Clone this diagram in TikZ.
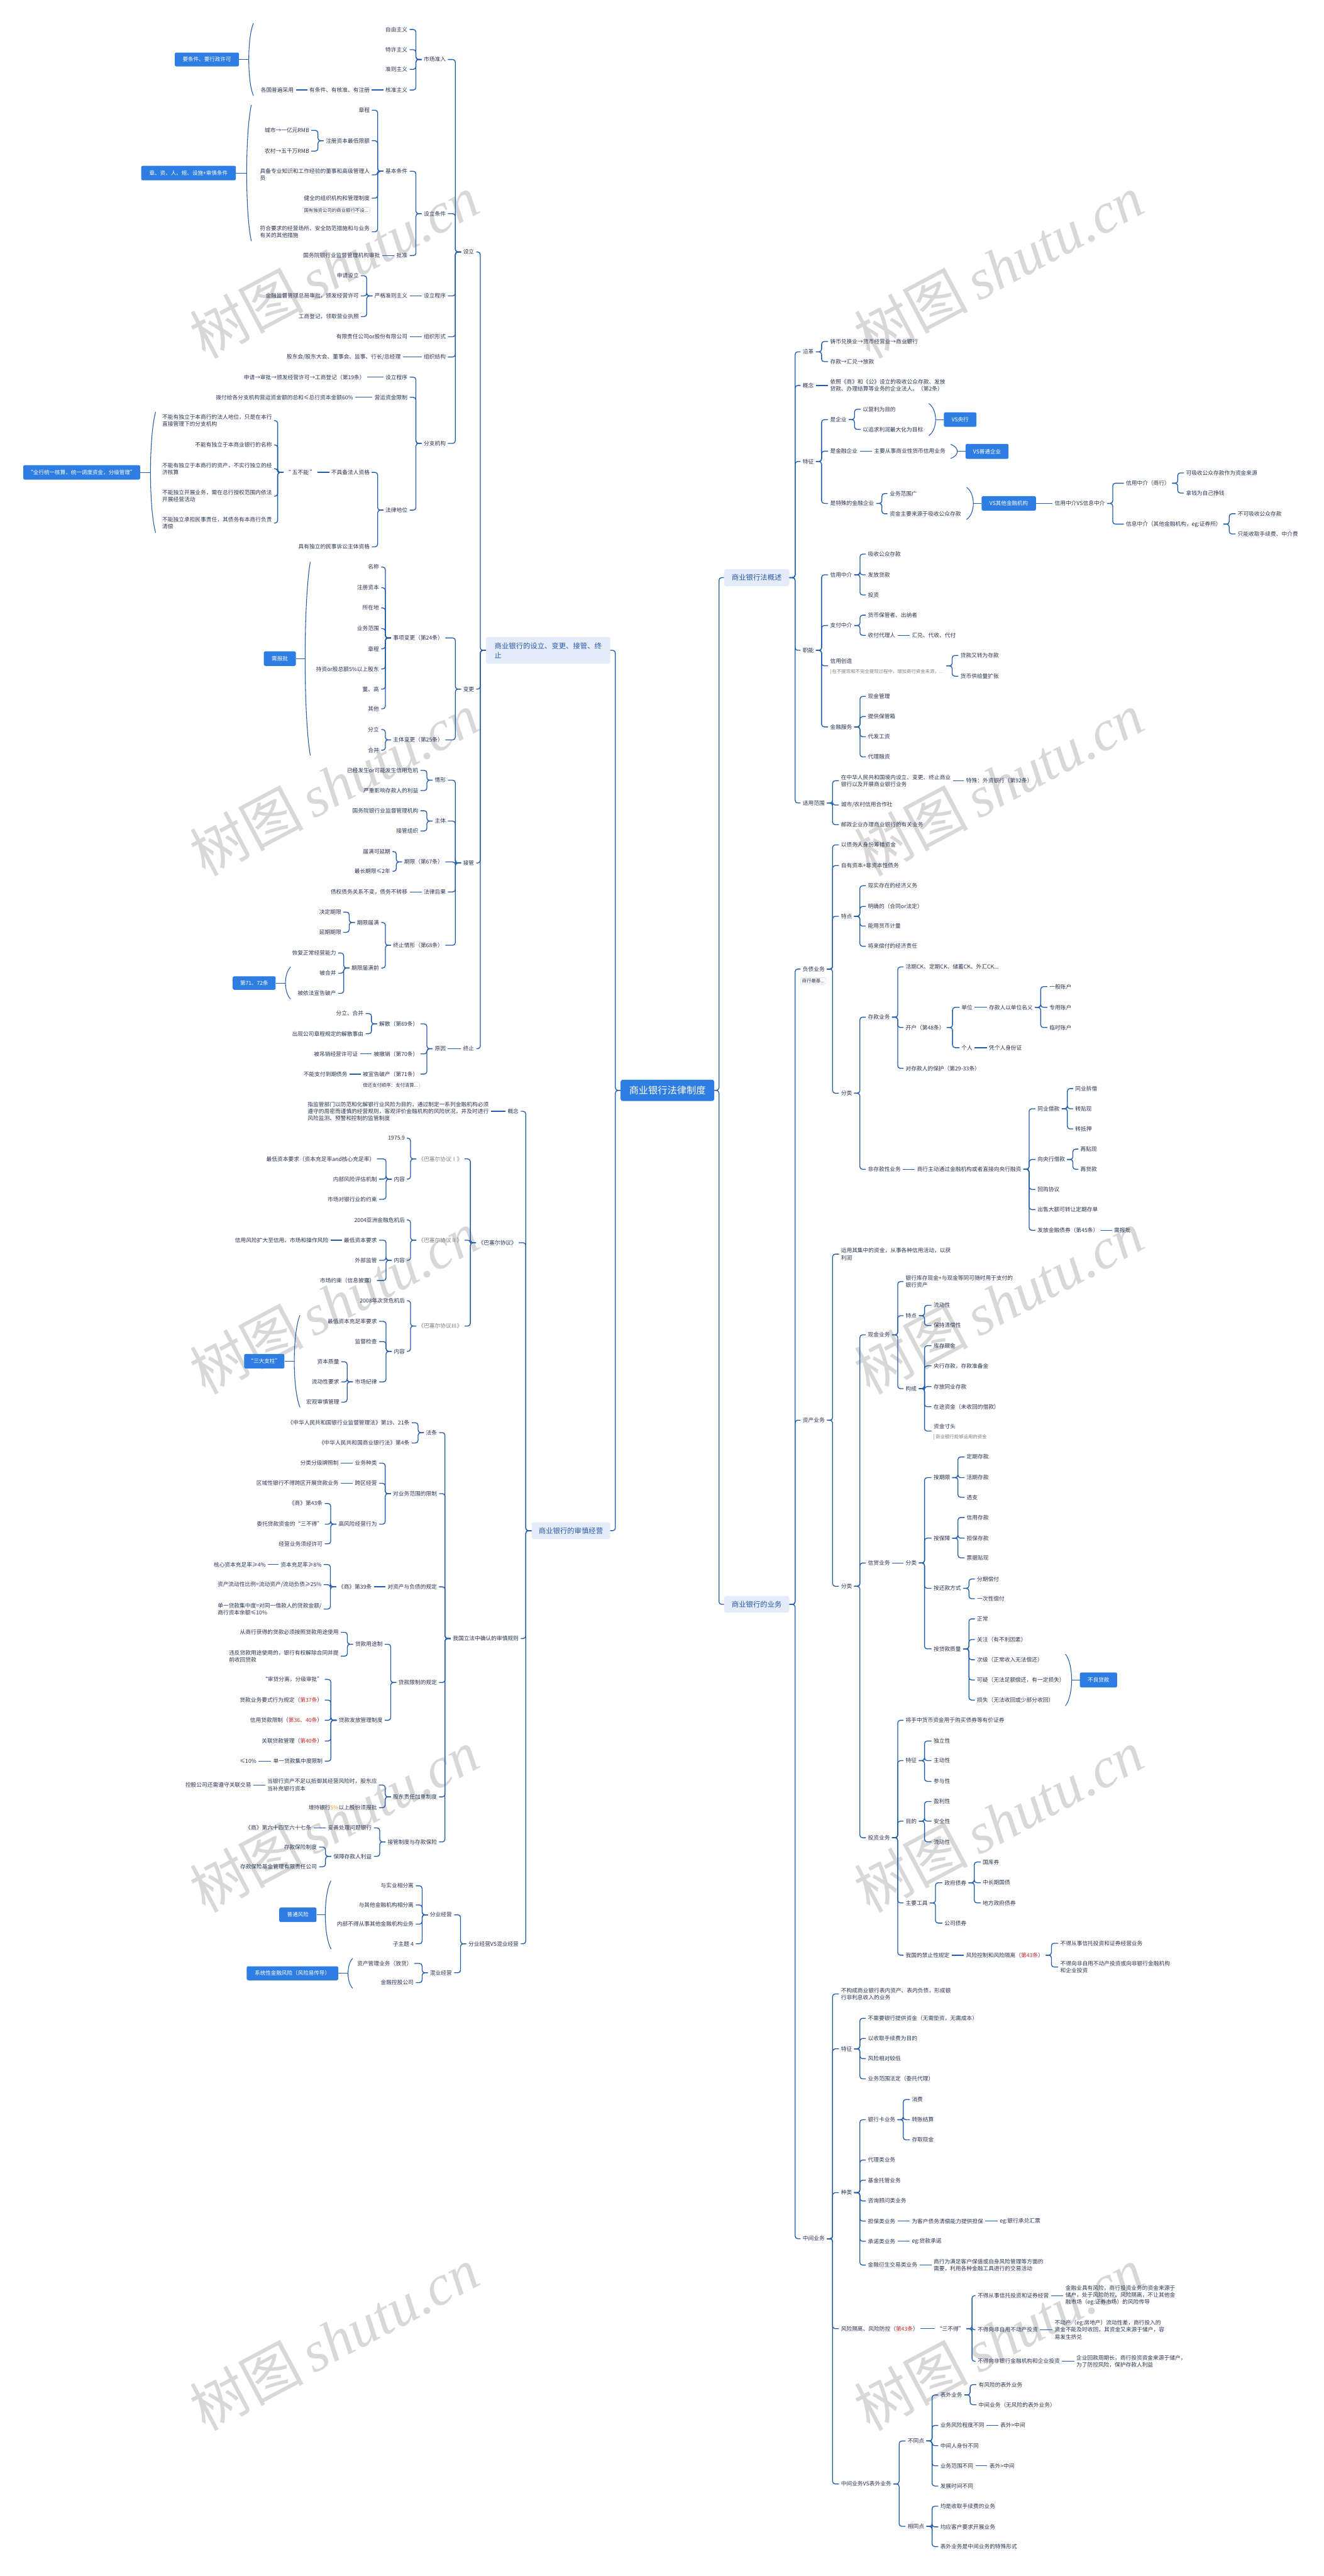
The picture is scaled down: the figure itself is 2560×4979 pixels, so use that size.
\documentclass[tikz,border=0pt]{standalone}
\usepackage{fontspec}
\setmainfont{Noto Sans CJK SC}
\newfontfamily\wmlat{Liberation Serif}
\usetikzlibrary{calc}
\definecolor{lc}{RGB}{33,92,170}
\definecolor{tc}{RGB}{42,52,82}
\definecolor{bb}{RGB}{46,125,226}
\definecolor{bf}{RGB}{228,236,250}
\definecolor{bt}{RGB}{40,88,170}
\definecolor{gt}{RGB}{125,125,125}
\definecolor{wm}{RGB}{216,216,216}
\definecolor{rd}{RGB}{200,40,40}
\definecolor{og}{RGB}{235,160,40}
\tikzset{
 txt/.style={inner xsep=4pt, inner ysep=1pt, text=tc, font=\fontsize{10.6}{13.6}\selectfont, align=left},
 gtxt/.style={txt, text=gt},
 notetxt/.style={inner xsep=4pt, inner ysep=1pt, text=gt, font=\fontsize{9}{11}\selectfont, align=left},
 conn/.style={draw=lc, line width=1.6pt, rounded corners=5pt},
 brace/.style={draw=lc, line width=1.3pt},
 bluebox/.style={fill=bb, text=white, rounded corners=3pt, font=\fontsize{10.4}{13}\selectfont, inner sep=0pt},
 branch/.style={fill=bf, text=bt, rounded corners=4pt, font=\fontsize{13.8}{18}\selectfont, inner sep=0pt, align=left},
 central/.style={fill=bb, text=white, rounded corners=4pt, font=\fontsize{18.5}{22}\selectfont, inner sep=0pt},
 notebox/.style={draw=gray!45, fill=white, rounded corners=3pt, text=tc, font=\fontsize{9}{11}\selectfont, inner xsep=3pt, inner ysep=2pt},
 wmark/.style={rotate=28, text=wm, font=\fontsize{110}{110}\selectfont},
}
\newcommand\mmL[4]{\node[txt,anchor=east] (#1) at ({#2+4},#3) {#4};}
\newcommand\mmR[4]{\node[txt,anchor=west] (#1) at ({#2-4},#3) {#4};}
\newcommand\mmLK[2]{\foreach \kid in {#2}{\draw[conn] (#1.west) -- ++(-11,0) |- (\kid.east);}}
\newcommand\mmRK[2]{\foreach \kid in {#2}{\draw[conn] (#1.east) -- ++(11,0) |- (\kid.west);}}
\newcommand\mmLS[2]{\draw[conn] (#1.west) -- (#2.east);}
\newcommand\mmRS[2]{\draw[conn] (#1.east) -- (#2.west);}
\newcommand\brL[5]{\draw[brace] (#1,#2) .. controls ({#4+(#4-#1)/3},{#2+(#3-#2)*0.2}) and ({#4+(#4-#1)/3},{#3-(#3-#2)*0.2}) .. (#1,#3); \draw[brace] (#4,{#2/2+#3/2}) -- (#5.east);}
\newcommand\brR[5]{\draw[brace] (#1,#2) .. controls ({#4+(#4-#1)/3},{#2+(#3-#2)*0.2}) and ({#4+(#4-#1)/3},{#3-(#3-#2)*0.2}) .. (#1,#3); \draw[brace] (#4,{#2/2+#3/2}) -- (#5.west);}
\begin{document}
\begin{tikzpicture}[x=1pt,y=-1pt]
\fill[white] (0,0) rectangle (2560,4979);
\useasboundingbox (0,0) rectangle (2560,4979);
% watermarks
\foreach \wx in {646,1931}{\foreach \wy in {515,1515,2517,3519,4520}{\node[wmark] at (\wx,\wy) {树图\,{\wmlat\itshape shutu.cn}};}}
% central and branches
\node[central,minimum width=181,minimum height=41] (C) at (1290.5,2107.5) {商业银行法律制度};
\node[branch,anchor=east,minimum width=240,minimum height=52] (B1) at (1180,1257) {商业银行的设立、变更、接管、终\\止};
\node[branch,anchor=east,minimum width=152,minimum height=33] (B2) at (1180,2958.5) {商业银行的审慎经营};
\node[branch,anchor=west,minimum width=126,minimum height=33] (B3) at (1400,1116.5) {商业银行法概述};
\node[branch,anchor=west,minimum width=126,minimum height=32] (B4) at (1400,3101) {商业银行的业务};
\draw[conn] (C.west) -- ++(-10,0) |- (B1.east);
\draw[conn] (C.west) -- ++(-10,0) |- (B2.east);
\draw[conn] (C.east) -- ++(9,0) |- (B3.west);
\draw[conn] (C.east) -- ++(9,0) |- (B4.west);
% ===== B1 =====
\mmL{sl}{917}{487}{设立}
\mmL{bg}{917}{1332}{变更}
\mmL{jg}{917}{1668}{接管}
\mmL{zz}{917}{2027}{终止}
\mmLK{B1}{sl,bg,jg,zz}
\mmL{a1}{862}{115}{市场准入}
\mmL{a2}{862}{413}{设立条件}
\mmL{a3}{862}{572}{设立程序}
\mmL{a4}{862}{651}{组织形式}
\mmL{a5}{862}{690}{组织结构}
\mmL{a6}{862}{857}{分支机构}
\mmLK{sl}{a1,a2,a3,a4,a5,a6}
\mmL{a11}{788}{57}{自由主义}
\mmL{a12}{788}{96}{特许主义}
\mmL{a13}{788}{134}{准则主义}
\mmL{a14}{788}{174}{核准主义}
\mmLK{a1}{a11,a12,a13,a14}
\mmL{a141}{715}{174}{有条件、有核准、有注册}
\mmLS{a14}{a141}
\mmL{a1411}{568}{174}{各国普遍采用}
\mmLS{a141}{a1411}
\node[bluebox,minimum width=124,minimum height=27] (X1) at (400,115) {要条件、要行政许可};
\brL{490}{45}{185}{481}{X1}
\mmL{a21}{788}{331}{基本条件}
\mmL{a22}{788}{494}{批准}
\mmLK{a2}{a21,a22}
\mmL{a211}{715}{213}{章程}
\mmL{a212}{715}{272}{注册资本最低限额}
\mmL{a213}{715}{338}{具备专业知识和工作经验的董事和高级管理人\\员}
\mmL{a214}{715}{383}{健全的组织机构和管理制度}
\mmL{a215}{715}{448}{符合要求的经营场所、安全防范措施和与业务\\有关的其他措施}
\mmLK{a21}{a211,a212,a213,a214,a215}
\node[notebox] (n1) at (650,406.5) {国有独资公司的商业银行不设...};
\mmL{a2121}{598}{252}{城市→一亿元RMB}
\mmL{a2122}{598}{292}{农村→五千万RMB}
\mmLK{a212}{a2121,a2122}
\node[bluebox,minimum width=183,minimum height=28] (X2) at (364.5,334.5) {章、资、人、规、设施+审慎条件};
\brL{486}{203}{466}{477}{X2}
\mmL{a221}{735}{494}{国务院银行业监督管理机构审批}
\mmLS{a22}{a221}
\mmL{a31}{788}{572}{严格准则主义}
\mmLS{a3}{a31}
\mmL{a311}{694}{533}{申请设立}
\mmL{a312}{694}{572}{金融监督管理总局审批，颁发经营许可}
\mmL{a313}{694}{612}{工商登记，领取营业执照}
\mmLK{a31}{a311,a312,a313}
\mmL{a41}{788}{651}{有限责任公司or股份有限公司}
\mmLS{a4}{a41}
\mmL{a51}{775}{690}{股东会/股东大会、董事会、监事、行长/总经理}
\mmLS{a5}{a51}
\mmL{a61}{788}{729}{设立程序}
\mmL{a62}{788}{768}{营运资金限制}
\mmL{a63}{788}{986}{法律地位}
\mmLK{a6}{a61,a62,a63}
\mmL{a611}{706}{729}{申请→审批→颁发经营许可→工商登记（第19条）}
\mmLS{a61}{a611}
\mmL{a621}{683}{768}{拨付给各分支机构营运资金额的总和≤总行资本金额60\%}
\mmLS{a62}{a621}
\mmL{a631}{715}{913}{不具备法人资格}
\mmL{a632}{715}{1057}{具有独立的民事诉讼主体资格}
\mmLK{a63}{a631,a632}
\mmL{a6311}{610}{913}{“ 五不能 ”}
\mmLS{a631}{a6311}
\mmL{f1}{526}{813}{不能有独立于本商行的法人地位，只是在本行\\直接管理下的分支机构}
\mmL{f2}{526}{860}{不能有独立于本商业银行的名称}
\mmL{f3}{526}{906}{不能有独立于本商行的资产，不实行独立的经\\济核算}
\mmL{f4}{526}{959}{不能独立开展业务，需在总行授权范围内依法\\开展经营活动}
\mmL{f5}{526}{1011}{不能独立承担民事责任，其债务有本商行负责\\清偿}
\mmLK{a6311}{f1,f2,f3,f4,f5}
\node[bluebox,minimum width=226,minimum height=28] (X3) at (158,913) {“全行统一核算，统一调度资金，分级管理”};
\brL{301}{796}{1030}{291}{X3}
% 变更
\mmL{b1}{857}{1233}{事项变更（第24条）}
\mmL{b2}{857}{1430}{主体变更（第25条）}
\mmLK{bg}{b1,b2}
\mmL{b11}{733}{1096}{名称}
\mmL{b12}{733}{1136}{注册资本}
\mmL{b13}{733}{1175}{所在地}
\mmL{b14}{733}{1215}{业务范围}
\mmL{b15}{733}{1254}{章程}
\mmL{b16}{733}{1293}{持资or股总额5\%以上股东}
\mmL{b17}{733}{1332}{董、高}
\mmL{b18}{733}{1370}{其他}
\mmLK{b1}{b11,b12,b13,b14,b15,b16,b17,b18}
\mmL{b21}{733}{1410}{分立}
\mmL{b22}{733}{1450}{合并}
\mmLK{b2}{b21,b22}
\node[bluebox,minimum width=62,minimum height=28] (X4) at (541,1273) {需报批};
\brL{600}{1086}{1460}{590}{X4}
% 接管
\mmL{c1}{862}{1508}{情形}
\mmL{c2}{862}{1587}{主体}
\mmL{c3}{857}{1666}{期限（第67条）}
\mmL{c4}{862}{1724}{法律后果}
\mmL{c5}{857}{1827}{终止情形（第68条）}
\mmLK{jg}{c1,c2,c3,c4,c5}
\mmL{c11}{809}{1489}{已经发生or可能发生信用危机}
\mmL{c12}{809}{1528}{严重影响存款人的利益}
\mmLK{c1}{c11,c12}
\mmL{c21}{809}{1567}{国务院银行业监督管理机构}
\mmL{c22}{809}{1606}{接管组织}
\mmLK{c2}{c21,c22}
\mmL{c31}{755}{1646}{届满可延期}
\mmL{c32}{755}{1684}{最长期限≤2年}
\mmLK{c3}{c31,c32}
\mmL{c41}{788}{1724}{债权债务关系不变，债务不转移}
\mmLS{c4}{c41}
\mmL{c51}{733}{1783}{期限届满}
\mmL{c52}{733}{1871}{期限届满前}
\mmLK{c5}{c51,c52}
\mmL{c511}{660}{1763}{决定期限}
\mmL{c512}{660}{1802}{延期期限}
\mmLK{c51}{c511,c512}
\mmL{c521}{650}{1842}{恢复正常经营能力}
\mmL{c522}{650}{1881}{被合并}
\mmL{c523}{650}{1920}{被依法宣告破产}
\mmLK{c52}{c521,c522,c523}
\node[bluebox,minimum width=83,minimum height=26] (X5) at (491.5,1900) {第71、72条};
\brL{562}{1869}{1931}{552}{X5}
% 终止
\mmL{d1}{862}{2027}{原因}
\mmLS{zz}{d1}
\mmL{d11}{809}{1979}{解散（第69条）}
\mmL{d12}{809}{2037}{被撤销（第70条）}
\mmL{d13}{809}{2076}{被宣告破产（第71条）}
\mmLK{d1}{d11,d12,d13}
\mmL{d111}{703}{1959}{分立、合并}
\mmL{d112}{703}{1998}{出现公司章程规定的解散事由}
\mmLK{d11}{d111,d112}
\mmL{d121}{692}{2037}{被吊销经营许可证}
\mmLS{d12}{d121}
\mmL{d131}{672}{2076}{不能支付到期债务}
\mmLS{d13}{d131}
\node[notebox] (n2) at (755,2098) {偿还支付顺序：支付清算...};
% ===== B2 =====
\mmL{e1}{1003}{2148}{概念}
\mmL{e2}{999}{2402}{《巴塞尔协议》}
\mmL{e3}{1003}{3167}{我国立法中确认的审慎规则}
\mmL{e4}{1003}{3757}{分业经营VS混业经营}
\mmLK{B2}{e1,e2,e3,e4}
\mmL{e11}{945}{2148}{指监管部门以防范和化解银行业风险为目的，通过制定一系列金融机构必须\\遵守的周密而谨慎的经营规则，客观评价金融机构的风险状况，并及时进行\\风险监测、预警和控制的监管制度}
\mmLS{e1}{e11}
\node[gtxt,anchor=east] (e21) at (898,2240) {《巴塞尔协议Ⅰ》};
\node[gtxt,anchor=east] (e22) at (898,2397) {《巴塞尔协议Ⅱ》};
\node[gtxt,anchor=east] (e23) at (898,2563) {《巴塞尔协议Ⅲ》};
\mmLK{e2}{e21,e22,e23}
\mmL{e211}{783}{2200}{1975.9}
\mmL{e212}{783}{2279}{内容}
\mmLK{e21}{e211,e212}
\mmL{e2121}{725}{2240}{最低资本要求（资本充足率and核心充足率）}
\mmL{e2122}{729}{2279}{内部风险评估机制}
\mmL{e2123}{729}{2318}{市场对银行业的约束}
\mmLK{e212}{e2121,e2122,e2123}
\mmL{e221}{783}{2358}{2004亚洲金融危机后}
\mmL{e222}{783}{2436}{内容}
\mmLK{e22}{e221,e222}
\mmL{e2221}{729}{2397}{最低资本要求}
\mmL{e2222}{729}{2436}{外部监管}
\mmL{e2223}{725}{2475}{市场约束（信息披露）}
\mmLK{e222}{e2221,e2222,e2223}
\mmL{e22211}{635}{2397}{信用风险扩大至信用、市场和操作风险}
\mmLS{e2221}{e22211}
\mmL{e231}{783}{2514}{2008年次贷危机后}
\mmL{e232}{783}{2612}{内容}
\mmLK{e23}{e231,e232}
\mmL{e2321}{729}{2554}{最低资本充足率要求}
\mmL{e2322}{729}{2593}{监督检查}
\mmL{e2323}{729}{2671}{市场纪律}
\mmLK{e232}{e2321,e2322,e2323}
\mmL{e23231}{656}{2632}{资本质量}
\mmL{e23232}{656}{2671}{流动性要求}
\mmL{e23233}{656}{2710}{宏观审慎管理}
\mmLK{e2323}{e23231,e23232,e23233}
\node[bluebox,minimum width=78,minimum height=28] (X6) at (511,2631) {“三大支柱”};
\brL{580}{2542}{2720}{569}{X6}
\mmL{e31}{845}{2769}{法条}
\mmL{e32}{845}{2887}{对业务范围的限制}
\mmL{e33}{845}{3067}{对资产与负债的规定}
\mmL{e34}{845}{3252}{贷款限制的规定}
\mmL{e35}{845}{3473}{股东责任加重制度}
\mmL{e36}{845}{3560}{接管制度与存款保险}
\mmLK{e3}{e31,e32,e33,e34,e35,e36}
\mmL{e311}{792}{2750}{《中华人民共和国银行业监督管理法》第19、21条}
\mmL{e312}{792}{2789}{《中华人民共和国商业银行法》第4条}
\mmLK{e31}{e311,e312}
\mmL{e321}{729}{2828}{业务种类}
\mmL{e322}{729}{2867}{跨区经营}
\mmL{e323}{729}{2946}{高风险经营行为}
\mmLK{e32}{e321,e322,e323}
\mmL{e3211}{655}{2828}{分类分级牌照制}
\mmLS{e321}{e3211}
\mmL{e3221}{655}{2867}{区域性银行不得跨区开展贷款业务}
\mmLS{e322}{e3221}
\mmL{e3231}{624}{2906}{《商》第43条}
\mmL{e3232}{624}{2946}{委托贷款资金的“三不得”}
\mmL{e3233}{624}{2984}{经营业务须经许可}
\mmLK{e323}{e3231,e3232,e3233}
\mmL{e331}{719}{3067}{《商》第39条}
\mmLS{e33}{e331}
\mmL{e3311}{622}{3024}{资本充足率≥8\%}
\mmL{e3312}{622}{3063}{资产流动性比例=流动资产/流动负债≥25\%}
\mmL{e3313}{622}{3110}{单一贷款集中度=对同一借款人的贷款金额/\\商行资本余额≤10\%}
\mmLK{e331}{e3311,e3312,e3313}
\mmL{e33111}{514}{3024}{核心资本充足率≥4\%}
\mmLS{e3311}{e33111}
\mmL{e341}{740}{3178}{贷款用途制}
\mmL{e342}{740}{3325}{贷款发放管理制度}
\mmLK{e34}{e341,e342}
\mmL{e3411}{655}{3155}{从商行获得的贷款必须按照贷款用途使用}
\mmL{e3412}{655}{3201}{违反贷款用途使用的，银行有权解除合同并提\\前收回贷款}
\mmLK{e341}{e3411,e3412}
\mmL{e3421}{624}{3246}{“审贷分离，分级审批”}
\mmL{e3422}{624}{3286}{贷款业务要式行为规定（\textcolor{rd}{第37条}）}
\mmL{e3423}{624}{3325}{信用贷款限制（\textcolor{rd}{第36、40条}）}
\mmL{e3424}{624}{3365}{关联贷款管理（\textcolor{rd}{第40条}）}
\mmL{e3425}{624}{3404}{单一贷款集中度限制}
\mmLK{e342}{e3421,e3422,e3423,e3424,e3425}
\mmL{e34251}{496}{3404}{≤10\%}
\mmLS{e3425}{e34251}
\mmL{e351}{729}{3450}{当银行资产不足以抵御其经营风险时，股东应\\当补充银行资本}
\mmL{e352}{729}{3494}{增持银行\textcolor{og}{5\%}以上股份须报批}
\mmLK{e35}{e351,e352}
\mmL{e3511}{486}{3450}{控股公司还需遵守关联交易}
\mmLS{e351}{e3511}
\mmL{e361}{719}{3533}{妥善处理问题银行}
\mmL{e362}{719}{3588}{保障存款人利益}
\mmLK{e36}{e361,e362}
\mmL{e3611}{602}{3533}{《商》第六十四至六十七条}
\mmLS{e361}{e3611}
\mmL{e3621}{613}{3570}{存款保险制度}
\mmL{e3622}{613}{3608}{存款保险基金管理有限责任公司}
\mmLK{e362}{e3621,e3622}
\mmL{e41}{874}{3701}{分业经营}
\mmL{e42}{874}{3813}{混业经营}
\mmLK{e4}{e41,e42}
\mmL{e411}{800}{3645}{与实业相分离}
\mmL{e412}{800}{3682}{与其他金融机构相分离}
\mmL{e413}{800}{3719}{内部不得从事其他金融机构业务}
\mmL{e414}{800}{3757}{子主题 4}
\mmLK{e41}{e411,e412,e413,e414}
\node[bluebox,minimum width=72,minimum height=28] (X7) at (576,3701) {普通风险};
\brL{640}{3635}{3767}{629}{X7}
\mmL{e421}{797}{3795}{资产管理业务（放贷）}
\mmL{e422}{800}{3832}{金融控股公司}
\mmLK{e42}{e421,e422}
\node[bluebox,minimum width=177,minimum height=27] (X8) at (565.5,3814) {系统性金融风险（风险易传导）};
\brL{682}{3785}{3843}{673}{X8}
% ===== B3 =====
\mmR{r1}{1552}{680}{沿革}
\mmR{r2}{1552}{745}{概念}
\mmR{r3}{1552}{892}{特征}
\mmR{r4}{1552}{1257}{职能}
\mmR{r5}{1552}{1552}{适用范围}
\mmRK{B3}{r1,r2,r3,r4,r5}
\mmR{r11}{1605}{660}{铸币兑换业→货币经营业→商业银行}
\mmR{r12}{1605}{699}{存款→汇兑→放款}
\mmRK{r1}{r11,r12}
\mmR{r21}{1605}{745}{依照《商》和《公》设立的吸收公众存款、发放\\贷款、办理结算等业务的企业法人。（第2条）}
\mmRS{r2}{r21}
\mmR{r31}{1605}{811}{是企业}
\mmR{r32}{1605}{872}{是金融企业}
\mmR{r33}{1605}{973}{是特殊的金融企业}
\mmRK{r3}{r31,r32,r33}
\mmR{r311}{1668}{791}{以营利为目的}
\mmR{r312}{1668}{830}{以追求利润最大化为目标}
\mmRK{r31}{r311,r312}
\node[bluebox,minimum width=63,minimum height=28] (Y1) at (1856.5,811) {VS央行};
\brR{1796}{780}{842}{1809}{Y1}
\mmR{r321}{1690}{872}{主要从事商业性货币信用业务}
\mmRS{r32}{r321}
\node[bluebox,minimum width=83,minimum height=29] (Y2) at (1908.5,872.5) {VS普通企业};
\brR{1838}{859}{886}{1851}{Y2}
\mmR{r331}{1720}{954}{业务范围广}
\mmR{r332}{1720}{993}{资金主要来源于吸收公众存款}
\mmRK{r33}{r331,r332}
\node[bluebox,minimum width=105,minimum height=28] (Y3) at (1950.5,973) {VS其他金融机构};
\brR{1869}{942}{1004}{1882}{Y3}
\mmR{r34}{2039}{973}{信用中介VS信息中介}
\draw[conn] (Y3.east) -- (r34.west);
\mmR{r341}{2177}{934}{信用中介（商行）}
\mmR{r342}{2177}{1013}{信息中介（其他金融机构，eg:证券所）}
\mmRK{r34}{r341,r342}
\mmR{r3411}{2293}{914}{可吸收公众存款作为资金来源}
\mmR{r3412}{2293}{953}{拿钱为自己挣钱}
\mmRK{r341}{r3411,r3412}
\mmR{r3421}{2393}{993}{不可吸收公众存款}
\mmR{r3422}{2393}{1032}{只能收取手续费、中介费}
\mmRK{r342}{r3421,r3422}
\mmR{r41}{1605}{1111}{信用中介}
\mmR{r42}{1605}{1209}{支付中介}
\mmR{r43}{1605}{1278}{信用创造}
\node[notetxt,anchor=west] (r43n) at (1601,1298) {\textcolor{gray!50}{\rule[-1.5pt]{0.8pt}{10pt}}\hspace{3pt}在不提现和不完全提现过程中，增加商行资金来源，...};
\coordinate (r43a) at (1601,1287);
\coordinate (r43b) at (1830,1287);
\mmR{r44}{1605}{1405}{金融服务}
\mmRK{r4}{r41,r42,r44}
\draw[conn] (r4.east) -- ++(11,0) |- (r43a);
\mmR{r411}{1678}{1071}{吸收公众存款}
\mmR{r412}{1678}{1111}{发放贷款}
\mmR{r413}{1678}{1150}{投资}
\mmRK{r41}{r411,r412,r413}
\mmR{r421}{1678}{1189}{货币保管者、出纳者}
\mmR{r422}{1678}{1228}{收付代理人}
\mmRK{r42}{r421,r422}
\mmR{r4221}{1763}{1228}{汇兑、代收、代付}
\mmRS{r422}{r4221}
\mmR{r431}{1857}{1267}{贷款又转为存款}
\mmR{r432}{1857}{1307}{货币供给量扩张}
\draw[conn] (r43b) -- ++(11,0) |- (r431.west);
\draw[conn] (r43b) -- ++(11,0) |- (r432.west);
\mmR{r441}{1678}{1346}{现金管理}
\mmR{r442}{1678}{1385}{提供保管箱}
\mmR{r443}{1678}{1424}{代发工资}
\mmR{r444}{1678}{1463}{代理融资}
\mmRK{r44}{r441,r442,r443,r444}
\mmR{r51}{1626}{1509}{在中华人民共和国境内设立、变更、终止商业\\银行以及开展商业银行业务}
\mmR{r52}{1626}{1556}{城市/农村信用合作社}
\mmR{r53}{1626}{1594}{邮政企业办理商业银行的有关业务}
\mmRK{r5}{r51,r52,r53}
\mmR{r511}{1868}{1509}{特殊：外资银行（第92条）}
\mmRS{r51}{r511}
% ===== B4 =====
\mmR{s1}{1552}{1873}{负债业务}
\mmR{s2}{1552}{2745}{资产业务}
\mmR{s3}{1552}{4327}{中间业务}
\mmRK{B4}{s1,s2,s3}
\node[notebox] (n3) at (1572.5,1896) {商行最基...};
\mmR{s11}{1626}{1633}{以债务人身份筹措资金}
\mmR{s12}{1626}{1673}{自有资本+非资本性债务}
\mmR{s13}{1626}{1771}{特点}
\mmR{s14}{1626}{2113}{分类}
\mmRK{s1}{s11,s12,s13,s14}
\mmR{s131}{1678}{1712}{现实存在的经济义务}
\mmR{s132}{1678}{1752}{明确的（合同or法定）}
\mmR{s133}{1678}{1790}{能用货币计量}
\mmR{s134}{1678}{1829}{将来偿付的经济责任}
\mmRK{s13}{s131,s132,s133,s134}
\mmR{s141}{1678}{1966}{存款业务}
\mmR{s142}{1678}{2260}{非存款性业务}
\mmRK{s14}{s141,s142}
\mmR{s1411}{1751}{1869}{活期CK、定期CK、储蓄CK、外汇CK...}
\mmR{s1412}{1751}{1986}{开户（第48条）}
\mmR{s1413}{1751}{2065}{对存款人的保护（第29-33条）}
\mmRK{s141}{s1411,s1412,s1413}
\mmR{s14121}{1859}{1947}{单位}
\mmR{s14122}{1859}{2025}{个人}
\mmRK{s1412}{s14121,s14122}
\mmR{s141211}{1912}{1947}{存款人以单位名义}
\mmRS{s14121}{s141211}
\mmR{g1}{2029}{1907}{一般账户}
\mmR{g2}{2029}{1947}{专用账户}
\mmR{g3}{2029}{1986}{临时账户}
\mmRK{s141211}{g1,g2,g3}
\mmR{s141221}{1912}{2025}{凭个人身份证}
\mmRS{s14122}{s141221}
\mmR{s1421}{1773}{2260}{商行主动通过金融机构或者直接向央行融资}
\mmRS{s142}{s1421}
\mmR{t1}{2006}{2143}{同业借款}
\mmR{t2}{2006}{2241}{向央行借款}
\mmR{t3}{2006}{2299}{回购协议}
\mmR{t4}{2006}{2338}{出售大额可转让定期存单}
\mmR{t5}{2006}{2378}{发放金融债券（第45条）}
\mmRK{s1421}{t1,t2,t3,t4,t5}
\mmR{t11}{2079}{2104}{同业拆借}
\mmR{t12}{2079}{2143}{转贴现}
\mmR{t13}{2079}{2182}{转抵押}
\mmRK{t1}{t11,t12,t13}
\mmR{t21}{2089}{2221}{再贴现}
\mmR{t22}{2089}{2260}{再贷款}
\mmRK{t2}{t21,t22}
\mmR{t51}{2154}{2378}{需报批}
\mmRS{t5}{t51}
\mmR{s21}{1626}{2424}{运用其集中的资金，从事各种信用活动，以获\\利润}
\mmR{s22}{1626}{3066}{分类}
\mmRK{s2}{s21,s22}
\mmR{u1}{1678}{2580}{现金业务}
\mmR{u2}{1678}{3021}{信贷业务}
\mmR{u3}{1678}{3552}{投资业务}
\mmRK{s22}{u1,u2,u3}
\mmR{u11}{1751}{2477}{银行库存现金+与现金等同可随时用于支付的\\银行资产}
\mmR{u12}{1751}{2543}{特点}
\mmR{u13}{1751}{2684}{构成}
\mmRK{u1}{u11,u12,u13}
\mmR{u121}{1805}{2523}{流动性}
\mmR{u122}{1805}{2562}{保持清偿性}
\mmRK{u12}{u121,u122}
\mmR{u131}{1805}{2601}{库存现金}
\mmR{u132}{1805}{2640}{央行存款，存款准备金}
\mmR{u133}{1805}{2680}{存放同业存款}
\mmR{u134}{1805}{2719}{在途资金（未收回的借款）}
\mmR{u135}{1805}{2757}{资金寸头}
\node[notetxt,anchor=west] (u135n) at (1801,2777) {\textcolor{gray!50}{\rule[-1.5pt]{0.8pt}{10pt}}\hspace{3pt}商业银行能够运用的资金};
\coordinate (u135a) at (1801,2766);
\mmRK{u13}{u131,u132,u133,u134}
\draw[conn] (u13.east) -- ++(11,0) |- (u135a);
\mmR{u21}{1751}{3021}{分类}
\mmRS{u2}{u21}
\mmR{u211}{1805}{2856}{按期限}
\mmR{u212}{1805}{2973}{按保障}
\mmR{u213}{1805}{3070}{按还款方式}
\mmR{u214}{1805}{3187}{按贷款质量}
\mmRK{u21}{u211,u212,u213,u214}
\mmR{u2111}{1869}{2816}{定期存款}
\mmR{u2112}{1869}{2856}{活期存款}
\mmR{u2113}{1869}{2894}{透支}
\mmRK{u211}{u2111,u2112,u2113}
\mmR{u2121}{1869}{2933}{信用存款}
\mmR{u2122}{1869}{2973}{担保存款}
\mmR{u2123}{1869}{3011}{票据贴现}
\mmRK{u212}{u2121,u2122,u2123}
\mmR{u2131}{1889}{3052}{分期偿付}
\mmR{u2132}{1889}{3090}{一次性偿付}
\mmRK{u213}{u2131,u2132}
\mmR{u2141}{1889}{3129}{正常}
\mmR{u2142}{1889}{3169}{关注（有不利因素）}
\mmR{u2143}{1889}{3208}{次级（正常收入无法偿还）}
\mmR{u2144}{1889}{3247}{可疑（无法足额偿还，有一定损失）}
\mmR{u2145}{1889}{3286}{损失（无法收回或少部分收回）}
\mmRK{u214}{u2141,u2142,u2143,u2144,u2145}
\node[bluebox,minimum width=72,minimum height=29] (Y4) at (2124,3247) {不良贷款};
\brR{2060}{3197}{3297}{2072}{Y4}
\mmR{v1}{1751}{3325}{将手中货币资金用于购买债券等有价证券}
\mmR{v2}{1751}{3403}{特征}
\mmR{v3}{1751}{3520}{目的}
\mmR{v4}{1751}{3678}{主要工具}
\mmR{v5}{1751}{3779}{我国的禁止性规定}
\mmRK{u3}{v1,v2,v3,v4,v5}
\mmR{v21}{1805}{3365}{独立性}
\mmR{v22}{1805}{3403}{主动性}
\mmR{v23}{1805}{3443}{参与性}
\mmRK{v2}{v21,v22,v23}
\mmR{v31}{1805}{3482}{盈利性}
\mmR{v32}{1805}{3520}{安全性}
\mmR{v33}{1805}{3560}{流动性}
\mmRK{v3}{v31,v32,v33}
\mmR{v41}{1826}{3639}{政府债券}
\mmR{v42}{1826}{3717}{公司债券}
\mmRK{v4}{v41,v42}
\mmR{v411}{1900}{3599}{国库券}
\mmR{v412}{1900}{3639}{中长期国债}
\mmR{v413}{1900}{3678}{地方政府债券}
\mmRK{v41}{v411,v412,v413}
\mmR{v51}{1868}{3779}{风险控制和风险隔离（\textcolor{rd}{第43条}）}
\mmRS{v5}{v51}
\mmR{v511}{2050}{3756}{不得从事信托投资和证券经营业务}
\mmR{v512}{2050}{3802}{不得向非自用不动产投资或向非银行金融机构\\和企业投资}
\mmRK{v51}{v511,v512}
\mmR{w1}{1626}{3854}{不构成商业银行表内资产、表内负债，形成银\\行非利息收入的业务}
\mmR{w2}{1626}{3960}{特征}
\mmR{w3}{1626}{4238}{种类}
\mmR{w4}{1626}{4501}{风险隔离、风险防控（\textcolor{rd}{第43条}）}
\mmR{w5}{1626}{4801}{中间业务VS表外业务}
\mmRK{s3}{w1,w2,w3,w4,w5}
\mmR{w21}{1678}{3901}{不需要银行提供资金（无需垫资，无需成本）}
\mmR{w22}{1678}{3940}{以收取手续费为目的}
\mmR{w23}{1678}{3979}{风险相对较低}
\mmR{w24}{1678}{4018}{业务范围法定（委托代理）}
\mmRK{w2}{w21,w22,w23,w24}
\mmR{w31}{1678}{4097}{银行卡业务}
\mmR{w32}{1678}{4175}{代理类业务}
\mmR{w33}{1678}{4214}{基金托管业务}
\mmR{w34}{1678}{4254}{咨询顾问类业务}
\mmR{w35}{1678}{4293}{担保类业务}
\mmR{w36}{1678}{4332}{承诺类业务}
\mmR{w37}{1678}{4378}{金融衍生交易类业务}
\mmRK{w3}{w31,w32,w33,w34,w35,w36,w37}
\mmR{w311}{1763}{4058}{消费}
\mmR{w312}{1763}{4097}{转账结算}
\mmR{w313}{1763}{4136}{存取现金}
\mmRK{w31}{w311,w312,w313}
\mmR{w351}{1763}{4293}{为客户债务清偿能力提供担保}
\mmRS{w35}{w351}
\mmR{w3511}{1933}{4293}{eg:银行承兑汇票}
\mmRS{w351}{w3511}
\mmR{w361}{1763}{4332}{eg:贷款承诺}
\mmRS{w36}{w361}
\mmR{w371}{1805}{4378}{商行为满足客户保值或自身风险管理等方面的\\需要，利用各种金融工具进行的交易活动}
\mmRS{w37}{w371}
\mmR{w41}{1811}{4501}{“三不得”}
\mmRS{w4}{w41}
\mmR{w411}{1890}{4437}{不得从事信托投资和证券经营}
\mmR{w412}{1890}{4503}{不得向非自用不动产投资}
\mmR{w413}{1890}{4564}{不得向非银行金融机构和企业投资}
\mmRK{w41}{w411,w412,w413}
\mmR{w4111}{2060}{4437}{金融业具有风险，商行投资业务的资金来源于\\储户，处于风险防控、风险隔离，不让其他金\\融市场（eg:证券市场）的风险传导}
\mmRS{w411}{w4111}
\mmR{w4121}{2039}{4503}{不动产（eg:房地产）流动性差，商行投入的\\资金不能及时收回，其资金又来源于储户，容\\易发生挤兑}
\mmRS{w412}{w4121}
\mmR{w4131}{2081}{4564}{企业回款周期长，商行投资资金来源于储户，\\为了防控风险，保护存款人利益}
\mmRS{w413}{w4131}
\mmR{w51}{1755}{4718}{不同点}
\mmR{w52}{1755}{4883}{相同点}
\mmRK{w5}{w51,w52}
\mmR{w511}{1818}{4629}{表外业务}
\mmR{w512}{1818}{4688}{业务风险程度不同}
\mmR{w513}{1818}{4727}{中间人身份不同}
\mmR{w514}{1818}{4766}{业务范围不同}
\mmR{w515}{1818}{4805}{发展时间不同}
\mmRK{w51}{w511,w512,w513,w514,w515}
\mmR{w5111}{1892}{4609}{有风险的表外业务}
\mmR{w5112}{1892}{4648}{中间业务（无风险的表外业务）}
\mmRK{w511}{w5111,w5112}
\mmR{w5121}{1934}{4688}{表外>中间}
\mmRS{w512}{w5121}
\mmR{w5141}{1913}{4766}{表外>中间}
\mmRS{w514}{w5141}
\mmR{w521}{1818}{4844}{均是收取手续费的业务}
\mmR{w522}{1818}{4884}{均应客户要求开展业务}
\mmR{w523}{1818}{4922}{表外业务是中间业务的特殊形式}
\mmRK{w52}{w521,w522,w523}
\end{tikzpicture}
\end{document}
